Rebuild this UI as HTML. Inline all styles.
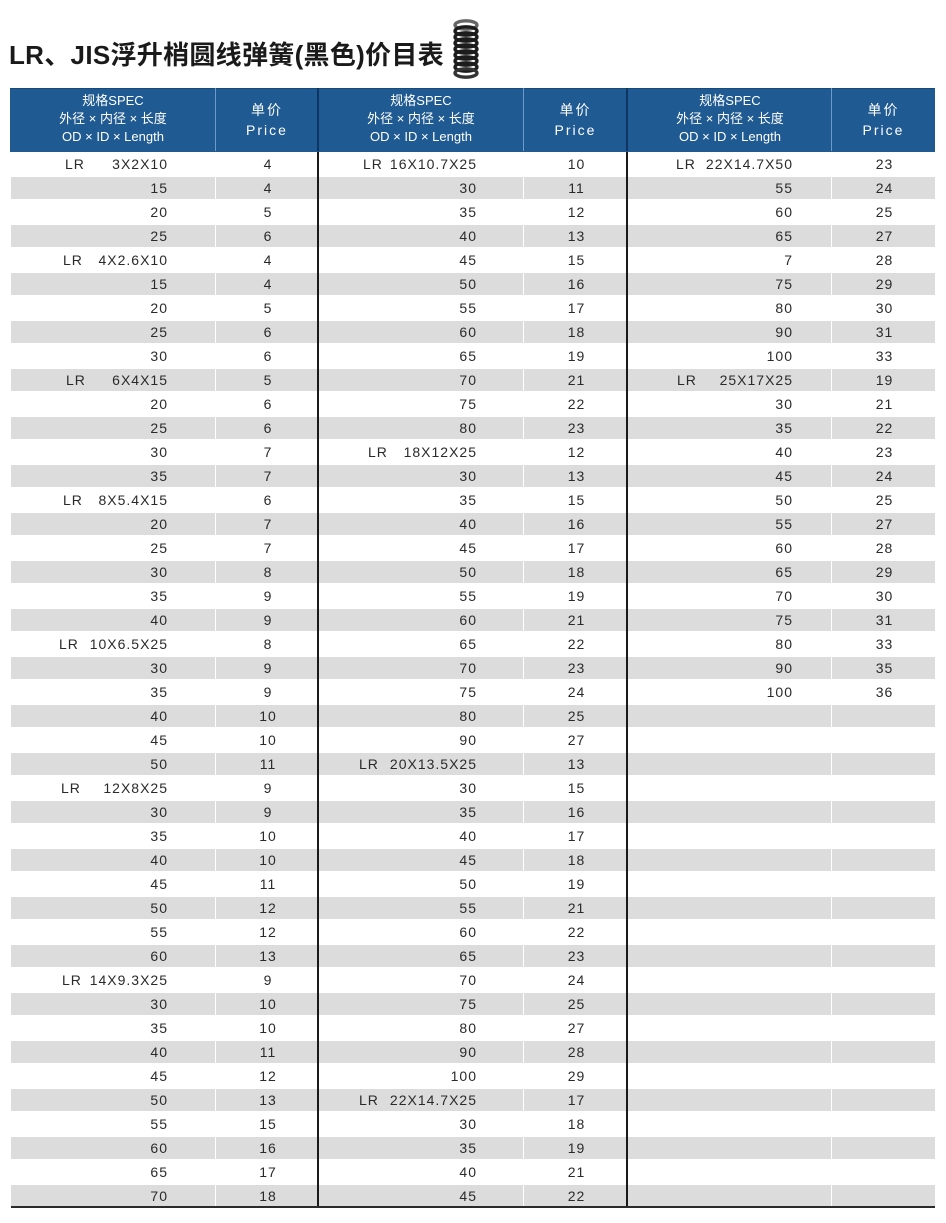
<!DOCTYPE html>
<html><head><meta charset="utf-8">
<style>
html,body{margin:0;padding:0;background:#fff;}
body{width:946px;height:1223px;position:relative;overflow:hidden;font-family:"Liberation Sans","Noto Sans CJK SC",sans-serif;}
.title{position:absolute;left:9px;top:38px;font-size:26px;font-weight:bold;color:#1a1a1a;white-space:nowrap;line-height:34px;font-family:"Liberation Sans","Noto Sans CJK SC",sans-serif;letter-spacing:0.3px;}
.hdr{position:absolute;left:10px;top:88px;width:925px;height:64px;background:#1f5a92;border-top:1px solid #174a7a;box-sizing:border-box;}
.hc{position:absolute;top:0;height:63px;color:#fff;text-align:center;}
.hs{font-size:13px;line-height:18px;padding-top:3px;font-family:"Liberation Sans","Noto Sans CJK SC",sans-serif;}
.hp{font-size:14px;line-height:20px;padding-top:11px;letter-spacing:2px;font-family:"Liberation Sans","Noto Sans CJK SC",sans-serif;}
.vl{position:absolute;top:88px;height:63px;width:1px;background:#6d9bc9;}
.vd{position:absolute;top:88px;height:63px;width:2px;background:#0e3560;}
.r{position:absolute;left:0;width:946px;height:24px;font-size:14px;letter-spacing:1px;color:#2a2a2a;line-height:24px;}
.r span{position:absolute;top:0;white-space:nowrap;}
.g::before{content:"";position:absolute;left:11px;width:924px;top:1px;height:22px;background:#dcdcdc;}
.s1{left:11px;width:157px;text-align:right;}
.p2{left:216px;width:102px;text-align:center;padding-left:1px;}
.s3{left:319px;width:158px;text-align:right;}
.p4{left:524px;width:103px;text-align:center;padding-left:1px;}
.s5{left:628px;width:165px;text-align:right;}
.p6{left:832px;width:103px;text-align:center;padding-left:1px;}
.w{position:absolute;top:152px;height:1055px;width:1px;background:#fff;}
.b{position:absolute;top:152px;height:1055px;width:2px;background:#1a1a1a;}
.bot{position:absolute;left:11px;top:1206px;width:924px;height:2px;background:#2a2a2a;}
</style></head><body>
<div class="title">LR、JIS浮升梢圆线弹簧(黑色)价目表</div>
<svg style="position:absolute;left:450px;top:16px" width="32" height="66" viewBox="0 0 32 66">
<g fill="none" stroke="#1c1c1c" stroke-width="3.4">
<ellipse cx="16" cy="9" rx="11" ry="4.2" stroke="#666"/>
<ellipse cx="16" cy="15" rx="11" ry="4.2"/>
<ellipse cx="16" cy="21" rx="11" ry="4.2"/>
<ellipse cx="16" cy="27" rx="11" ry="4.2"/>
<ellipse cx="16" cy="33" rx="11" ry="4.2"/>
<ellipse cx="16" cy="39" rx="11" ry="4.2"/>
<ellipse cx="16" cy="45" rx="11" ry="4.2"/>
<ellipse cx="16" cy="51" rx="11" ry="4.2"/>
<ellipse cx="16" cy="57" rx="11" ry="4.2" stroke="#333"/>
</g></svg>

<div class="hdr"></div>
<div class="hc hs" style="left:11px;width:204px;top:89px">规格SPEC<br>外径 × 内径 × 长度<br>OD × ID × Length</div>
<div class="hc hp" style="left:216px;width:102px;top:89px">单价<br>Price</div>
<div class="hc hs" style="left:319px;width:204px;top:89px">规格SPEC<br>外径 × 内径 × 长度<br>OD × ID × Length</div>
<div class="hc hp" style="left:524px;width:103px;top:89px">单价<br>Price</div>
<div class="hc hs" style="left:628px;width:204px;top:89px">规格SPEC<br>外径 × 内径 × 长度<br>OD × ID × Length</div>
<div class="hc hp" style="left:832px;width:103px;top:89px">单价<br>Price</div>
<div class="vl" style="left:215px"></div>
<div class="vd" style="left:317px"></div>
<div class="vl" style="left:523px"></div>
<div class="vd" style="left:626px"></div>
<div class="vl" style="left:831px"></div>

<div class="r" style="top:152px"><span style="left:65px">LR</span><span class="s1">3X2X10</span><span class="p2">4</span><span style="left:363px">LR</span><span class="s3">16X10.7X25</span><span class="p4">10</span><span style="left:676px">LR</span><span class="s5">22X14.7X50</span><span class="p6">23</span></div>
<div class="r g" style="top:176px"><span class="s1">15</span><span class="p2">4</span><span class="s3">30</span><span class="p4">11</span><span class="s5">55</span><span class="p6">24</span></div>
<div class="r" style="top:200px"><span class="s1">20</span><span class="p2">5</span><span class="s3">35</span><span class="p4">12</span><span class="s5">60</span><span class="p6">25</span></div>
<div class="r g" style="top:224px"><span class="s1">25</span><span class="p2">6</span><span class="s3">40</span><span class="p4">13</span><span class="s5">65</span><span class="p6">27</span></div>
<div class="r" style="top:248px"><span style="left:63px">LR</span><span class="s1">4X2.6X10</span><span class="p2">4</span><span class="s3">45</span><span class="p4">15</span><span class="s5">7</span><span class="p6">28</span></div>
<div class="r g" style="top:272px"><span class="s1">15</span><span class="p2">4</span><span class="s3">50</span><span class="p4">16</span><span class="s5">75</span><span class="p6">29</span></div>
<div class="r" style="top:296px"><span class="s1">20</span><span class="p2">5</span><span class="s3">55</span><span class="p4">17</span><span class="s5">80</span><span class="p6">30</span></div>
<div class="r g" style="top:320px"><span class="s1">25</span><span class="p2">6</span><span class="s3">60</span><span class="p4">18</span><span class="s5">90</span><span class="p6">31</span></div>
<div class="r" style="top:344px"><span class="s1">30</span><span class="p2">6</span><span class="s3">65</span><span class="p4">19</span><span class="s5">100</span><span class="p6">33</span></div>
<div class="r g" style="top:368px"><span style="left:66px">LR</span><span class="s1">6X4X15</span><span class="p2">5</span><span class="s3">70</span><span class="p4">21</span><span style="left:677px">LR</span><span class="s5">25X17X25</span><span class="p6">19</span></div>
<div class="r" style="top:392px"><span class="s1">20</span><span class="p2">6</span><span class="s3">75</span><span class="p4">22</span><span class="s5">30</span><span class="p6">21</span></div>
<div class="r g" style="top:416px"><span class="s1">25</span><span class="p2">6</span><span class="s3">80</span><span class="p4">23</span><span class="s5">35</span><span class="p6">22</span></div>
<div class="r" style="top:440px"><span class="s1">30</span><span class="p2">7</span><span style="left:368px">LR</span><span class="s3">18X12X25</span><span class="p4">12</span><span class="s5">40</span><span class="p6">23</span></div>
<div class="r g" style="top:464px"><span class="s1">35</span><span class="p2">7</span><span class="s3">30</span><span class="p4">13</span><span class="s5">45</span><span class="p6">24</span></div>
<div class="r" style="top:488px"><span style="left:63px">LR</span><span class="s1">8X5.4X15</span><span class="p2">6</span><span class="s3">35</span><span class="p4">15</span><span class="s5">50</span><span class="p6">25</span></div>
<div class="r g" style="top:512px"><span class="s1">20</span><span class="p2">7</span><span class="s3">40</span><span class="p4">16</span><span class="s5">55</span><span class="p6">27</span></div>
<div class="r" style="top:536px"><span class="s1">25</span><span class="p2">7</span><span class="s3">45</span><span class="p4">17</span><span class="s5">60</span><span class="p6">28</span></div>
<div class="r g" style="top:560px"><span class="s1">30</span><span class="p2">8</span><span class="s3">50</span><span class="p4">18</span><span class="s5">65</span><span class="p6">29</span></div>
<div class="r" style="top:584px"><span class="s1">35</span><span class="p2">9</span><span class="s3">55</span><span class="p4">19</span><span class="s5">70</span><span class="p6">30</span></div>
<div class="r g" style="top:608px"><span class="s1">40</span><span class="p2">9</span><span class="s3">60</span><span class="p4">21</span><span class="s5">75</span><span class="p6">31</span></div>
<div class="r" style="top:632px"><span style="left:59px">LR</span><span class="s1">10X6.5X25</span><span class="p2">8</span><span class="s3">65</span><span class="p4">22</span><span class="s5">80</span><span class="p6">33</span></div>
<div class="r g" style="top:656px"><span class="s1">30</span><span class="p2">9</span><span class="s3">70</span><span class="p4">23</span><span class="s5">90</span><span class="p6">35</span></div>
<div class="r" style="top:680px"><span class="s1">35</span><span class="p2">9</span><span class="s3">75</span><span class="p4">24</span><span class="s5">100</span><span class="p6">36</span></div>
<div class="r g" style="top:704px"><span class="s1">40</span><span class="p2">10</span><span class="s3">80</span><span class="p4">25</span></div>
<div class="r" style="top:728px"><span class="s1">45</span><span class="p2">10</span><span class="s3">90</span><span class="p4">27</span></div>
<div class="r g" style="top:752px"><span class="s1">50</span><span class="p2">11</span><span style="left:359px">LR</span><span class="s3">20X13.5X25</span><span class="p4">13</span></div>
<div class="r" style="top:776px"><span style="left:61px">LR</span><span class="s1">12X8X25</span><span class="p2">9</span><span class="s3">30</span><span class="p4">15</span></div>
<div class="r g" style="top:800px"><span class="s1">30</span><span class="p2">9</span><span class="s3">35</span><span class="p4">16</span></div>
<div class="r" style="top:824px"><span class="s1">35</span><span class="p2">10</span><span class="s3">40</span><span class="p4">17</span></div>
<div class="r g" style="top:848px"><span class="s1">40</span><span class="p2">10</span><span class="s3">45</span><span class="p4">18</span></div>
<div class="r" style="top:872px"><span class="s1">45</span><span class="p2">11</span><span class="s3">50</span><span class="p4">19</span></div>
<div class="r g" style="top:896px"><span class="s1">50</span><span class="p2">12</span><span class="s3">55</span><span class="p4">21</span></div>
<div class="r" style="top:920px"><span class="s1">55</span><span class="p2">12</span><span class="s3">60</span><span class="p4">22</span></div>
<div class="r g" style="top:944px"><span class="s1">60</span><span class="p2">13</span><span class="s3">65</span><span class="p4">23</span></div>
<div class="r" style="top:968px"><span style="left:62px">LR</span><span class="s1">14X9.3X25</span><span class="p2">9</span><span class="s3">70</span><span class="p4">24</span></div>
<div class="r g" style="top:992px"><span class="s1">30</span><span class="p2">10</span><span class="s3">75</span><span class="p4">25</span></div>
<div class="r" style="top:1016px"><span class="s1">35</span><span class="p2">10</span><span class="s3">80</span><span class="p4">27</span></div>
<div class="r g" style="top:1040px"><span class="s1">40</span><span class="p2">11</span><span class="s3">90</span><span class="p4">28</span></div>
<div class="r" style="top:1064px"><span class="s1">45</span><span class="p2">12</span><span class="s3">100</span><span class="p4">29</span></div>
<div class="r g" style="top:1088px"><span class="s1">50</span><span class="p2">13</span><span style="left:359px">LR</span><span class="s3">22X14.7X25</span><span class="p4">17</span></div>
<div class="r" style="top:1112px"><span class="s1">55</span><span class="p2">15</span><span class="s3">30</span><span class="p4">18</span></div>
<div class="r g" style="top:1136px"><span class="s1">60</span><span class="p2">16</span><span class="s3">35</span><span class="p4">19</span></div>
<div class="r" style="top:1160px"><span class="s1">65</span><span class="p2">17</span><span class="s3">40</span><span class="p4">21</span></div>
<div class="r g" style="top:1184px"><span class="s1">70</span><span class="p2">18</span><span class="s3">45</span><span class="p4">22</span></div>

<div class="w" style="left:215px"></div>
<div class="w" style="left:523px"></div>
<div class="w" style="left:831px"></div>
<div class="b" style="left:317px"></div>
<div class="b" style="left:626px"></div>
<div class="bot"></div>
</body></html>
